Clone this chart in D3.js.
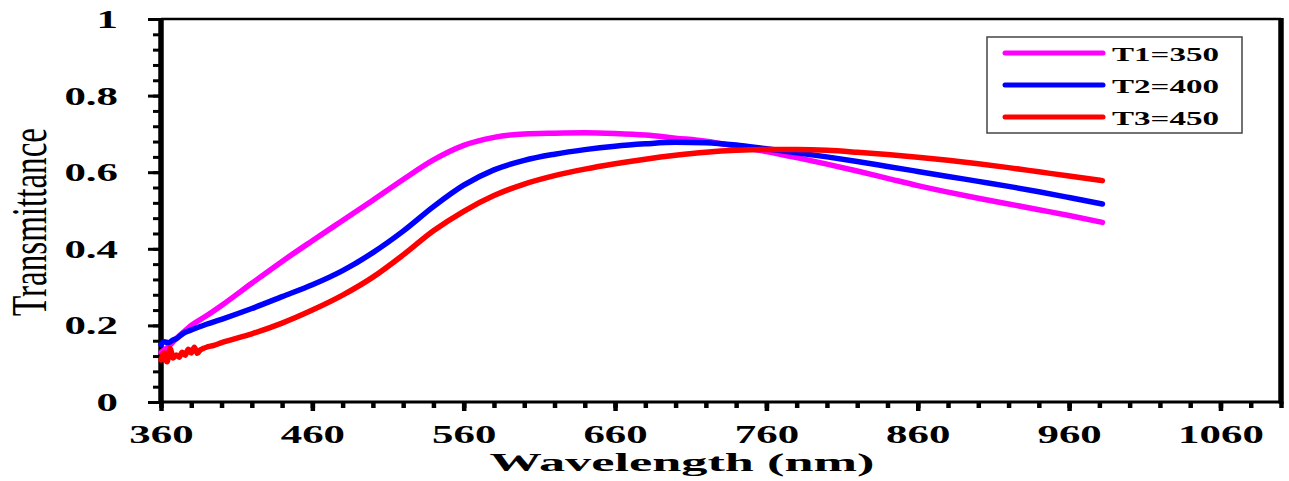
<!DOCTYPE html>
<html lang="en">
<head>
    <meta charset="UTF-8">
    <title>Transmittance vs Wavelength</title>
    <script src="https://d3js.org/d3.v7.min.js"></script>
    <style>
        body {
            margin: 0;
            background: #fff;
            overflow: hidden;
        }
        svg text {
            font-family: "Liberation Serif", "Times New Roman", serif;
            fill: #000;
        }
    </style>
</head>
<body>
    <svg id="chart" width="1289" height="481"></svg>

    <script>
        // tick values
        const xMajorTicks = [360, 460, 560, 660, 760, 860, 960, 1060];
        const xMinorTicks = d3.range(360, 1101, 20);
        const yMajorTicks = [0, 0.2, 0.4, 0.6, 0.8, 1];
        const yMinorTicks = d3.range(0, 1.001, 0.04);

        // series
        const seriesNames = ["T1=350", "T2=400", "T3=450"];
        const seriesColors = ["#ff00ff", "#0000ff", "#ff0000"];

        const wlT1 = [360, 365, 370, 375, 380, 390, 400, 420, 440, 460, 480, 500, 520, 540, 560, 580, 600, 620, 640, 660, 680, 700, 720, 740, 760, 780, 800, 820, 840, 860, 880, 900, 920, 940, 960, 982];
        const trT1 = [0.130, 0.145, 0.165, 0.183, 0.200, 0.225, 0.252, 0.310, 0.367, 0.421, 0.474, 0.527, 0.581, 0.632, 0.670, 0.691, 0.700, 0.702, 0.703, 0.701, 0.697, 0.689, 0.681, 0.668, 0.654, 0.638, 0.621, 0.603, 0.584, 0.565, 0.548, 0.532, 0.517, 0.502, 0.487, 0.469];

        const wlT2 = [360, 362, 365, 368, 370, 375, 380, 390, 400, 420, 440, 460, 480, 500, 520, 540, 560, 580, 600, 620, 640, 660, 680, 700, 720, 740, 760, 780, 800, 820, 840, 860, 880, 900, 920, 940, 960, 982];
        const trT2 = [0.150, 0.157, 0.155, 0.162, 0.165, 0.180, 0.188, 0.203, 0.216, 0.244, 0.275, 0.306, 0.343, 0.390, 0.446, 0.510, 0.566, 0.606, 0.631, 0.647, 0.659, 0.668, 0.674, 0.678, 0.677, 0.671, 0.661, 0.651, 0.640, 0.628, 0.615, 0.602, 0.589, 0.576, 0.563, 0.549, 0.534, 0.517];

        const wlT3 = [360, 362, 364, 366, 368, 370, 372, 374, 376, 378, 380, 382, 384, 386, 388, 390, 395, 400, 420, 440, 460, 480, 500, 520, 540, 560, 580, 600, 620, 640, 660, 680, 700, 720, 740, 760, 780, 800, 820, 840, 860, 880, 900, 920, 940, 960, 982];
        const trT3 = [0.110, 0.128, 0.105, 0.140, 0.115, 0.123, 0.117, 0.130, 0.122, 0.138, 0.128, 0.143, 0.127, 0.136, 0.140, 0.143, 0.148, 0.155, 0.178, 0.206, 0.240, 0.279, 0.326, 0.384, 0.447, 0.498, 0.539, 0.569, 0.591, 0.608, 0.622, 0.634, 0.644, 0.652, 0.657, 0.659, 0.659, 0.657, 0.652, 0.646, 0.639, 0.631, 0.622, 0.612, 0.601, 0.590, 0.578];

        const series = [
            { name: seriesNames[0], color: seriesColors[0], pts: wlT1.map((w, i) => [w, trT1[i]]) },
            { name: seriesNames[1], color: seriesColors[1], pts: wlT2.map((w, i) => [w, trT2[i]]) },
            { name: seriesNames[2], color: seriesColors[2], pts: wlT3.map((w, i) => [w, trT3[i]]) }
        ];

        const svg = d3.select("#chart");

        // plot frame in pixels
        const plotLeft = 161, plotRight = 1281, plotTop = 19, plotBottom = 402;
        const textStretch = 1.75;   // the picture is stretched sideways

        const x = d3.scaleLinear().domain([360, 1100]).range([plotLeft, plotRight]);
        const y = d3.scaleLinear().domain([0, 1]).range([plotBottom, plotTop]);

        // minor ticks
        svg.append("g")
            .attr("transform", `translate(0,${plotBottom})`)
            .call(d3.axisBottom(x).tickValues(xMinorTicks).tickSize(6).tickSizeOuter(0).tickFormat(""))
            .call(g => g.select(".domain").remove())
            .call(g => g.selectAll("line").attr("stroke", "#000").attr("stroke-width", 4.5));

        svg.append("g")
            .attr("transform", `translate(${plotLeft},0)`)
            .call(d3.axisLeft(y).tickValues(yMinorTicks).tickSize(8).tickSizeOuter(0).tickFormat(""))
            .call(g => g.select(".domain").remove())
            .call(g => g.selectAll("line").attr("stroke", "#000").attr("stroke-width", 3));

        // major ticks + labels
        const xAxis = svg.append("g")
            .attr("transform", `translate(0,${plotBottom})`)
            .call(d3.axisBottom(x).tickValues(xMajorTicks).tickSize(9).tickSizeOuter(0).tickFormat(d3.format("d")))
            .call(g => g.select(".domain").remove());
        xAxis.selectAll("line").attr("stroke", "#000").attr("stroke-width", 4.5);
        xAxis.selectAll("text")
            .attr("y", 41)
            .attr("dy", 0)
            .attr("transform", `scale(${textStretch},1)`)
            .style("font-size", "24.5px")
            .style("font-weight", "bold");

        const yAxis = svg.append("g")
            .attr("transform", `translate(${plotLeft},0)`)
            .call(d3.axisLeft(y).tickValues(yMajorTicks).tickSize(13).tickSizeOuter(0)
                .tickFormat(d => d === 0 || d === 1 ? d3.format("d")(d) : d3.format(".1f")(d)))
            .call(g => g.select(".domain").remove());
        yAxis.selectAll("line").attr("stroke", "#000").attr("stroke-width", 3);
        yAxis.selectAll("text")
            .attr("x", -43 / textStretch)
            .attr("dy", "0.35em")
            .attr("transform", `scale(${textStretch},1)`)
            .style("font-size", "24.5px")
            .style("font-weight", "bold");

        // frame
        svg.append("line").attr("x1", plotLeft).attr("x2", plotRight).attr("y1", plotTop).attr("y2", plotTop)
            .attr("stroke", "#000").attr("stroke-width", 2.5);
        svg.append("line").attr("x1", plotRight).attr("x2", plotRight).attr("y1", plotTop - 1).attr("y2", plotBottom + 1.5)
            .attr("stroke", "#000").attr("stroke-width", 5.5);
        svg.append("line").attr("x1", plotLeft).attr("x2", plotRight).attr("y1", plotBottom).attr("y2", plotBottom)
            .attr("stroke", "#000").attr("stroke-width", 3.2);
        svg.append("line").attr("x1", plotLeft).attr("x2", plotLeft).attr("y1", plotTop - 1).attr("y2", plotBottom + 1.5)
            .attr("stroke", "#000").attr("stroke-width", 5.5);

        // curves
        const line = d3.line()
            .x(d => x(d[0]))
            .y(d => y(d[1]))
            .curve(d3.curveMonotoneX);

        svg.append("g").selectAll("path")
            .data(series)
            .enter()
            .append("path")
            .attr("d", d => line(d.pts))
            .attr("fill", "none")
            .attr("stroke", d => d.color)
            .attr("stroke-width", 5.5)
            .attr("stroke-linecap", "round")
            .attr("stroke-linejoin", "round");

        // axis titles
        svg.append("text")
            .attr("x", 682)
            .attr("y", 471)
            .attr("text-anchor", "middle")
            .attr("textLength", 385)
            .attr("lengthAdjust", "spacingAndGlyphs")
            .style("font-size", "26px")
            .style("font-weight", "bold")
            .text("Wavelength (nm)");

        svg.append("text")
            .attr("transform", "translate(46,222) scale(1.55,1) rotate(-90)")
            .attr("text-anchor", "middle")
            .attr("textLength", 188)
            .attr("lengthAdjust", "spacingAndGlyphs")
            .style("font-size", "33px")
            .text("Transmittance");

        // legend
        const legend = svg.append("g");
        legend.append("rect")
            .attr("x", 987).attr("y", 37)
            .attr("width", 255).attr("height", 96)
            .attr("fill", "#fff")
            .attr("stroke", "#444")
            .attr("stroke-width", 1.5);

        const item = legend.selectAll(".legend-item")
            .data(series)
            .enter()
            .append("g")
            .attr("class", "legend-item")
            .attr("transform", (d, i) => `translate(0,${53 + i * 32})`);

        item.append("line")
            .attr("x1", 1005).attr("x2", 1103)
            .attr("stroke", d => d.color)
            .attr("stroke-width", 5)
            .attr("stroke-linecap", "round");

        item.append("text")
            .attr("x", 1112)
            .attr("y", 7.5)
            .attr("textLength", 107)
            .attr("lengthAdjust", "spacingAndGlyphs")
            .style("font-size", "18.5px")
            .style("font-weight", "bold")
            .text(d => d.name);
    </script>
</body>
</html>
